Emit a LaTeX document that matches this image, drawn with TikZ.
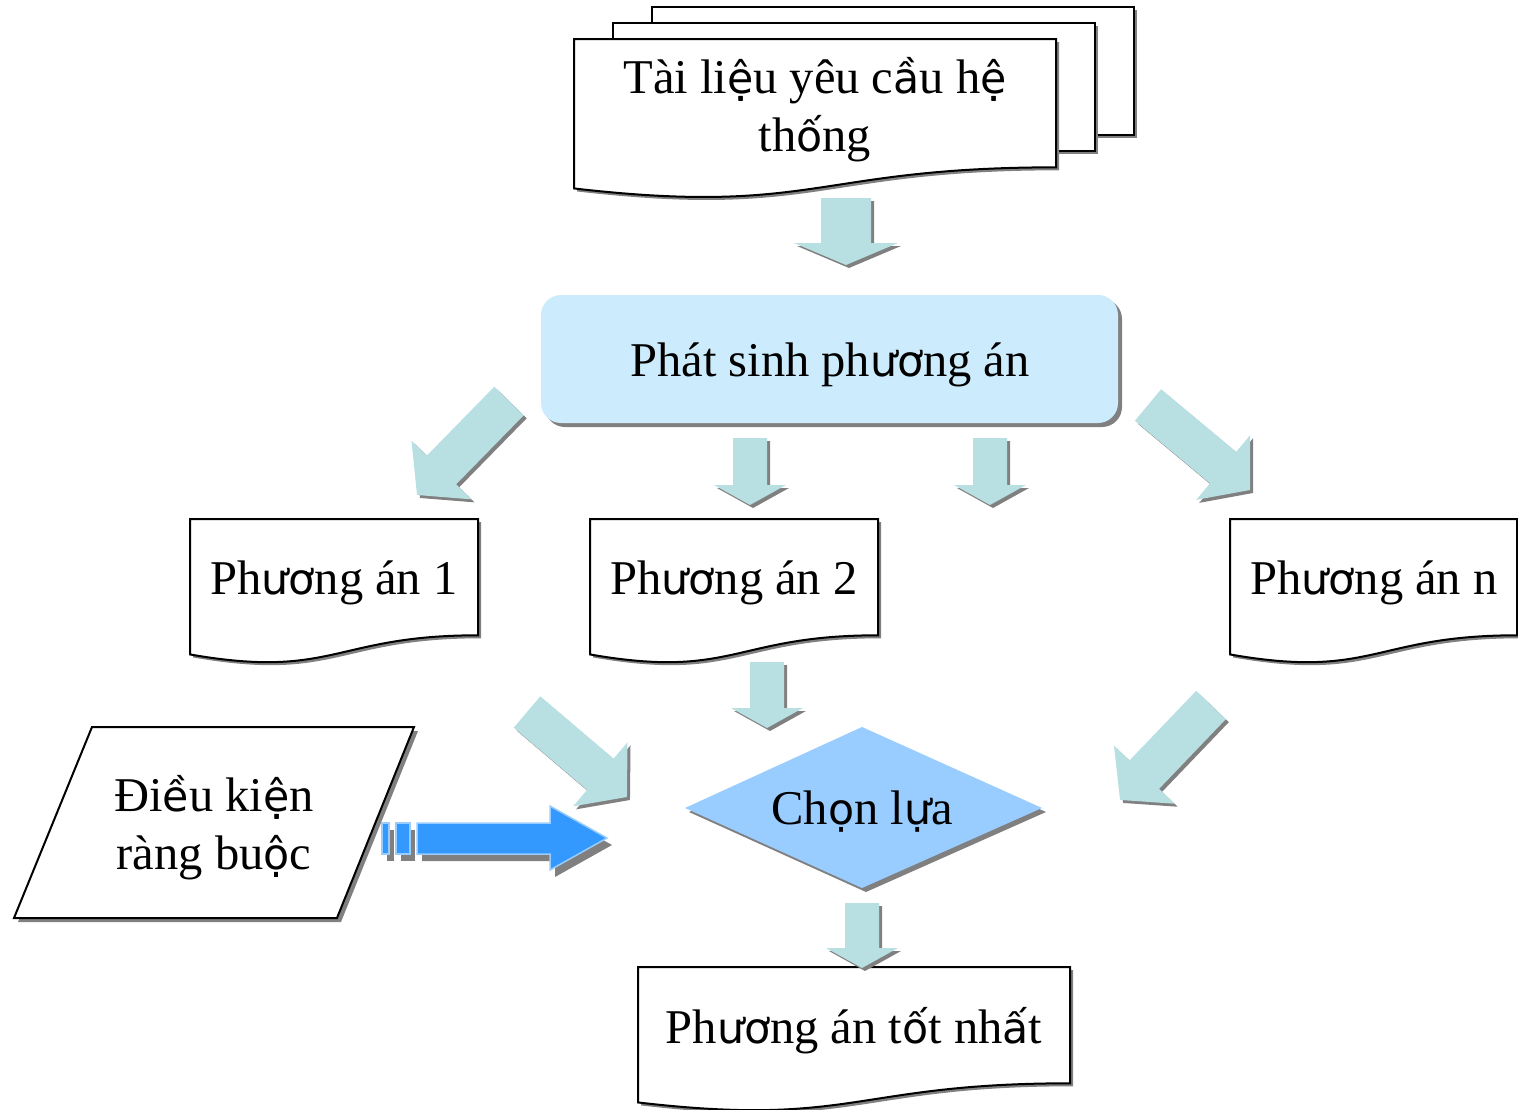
\documentclass[tikz,border=0pt]{standalone}
\usepackage{fontspec}
\setmainfont{Liberation Serif}
\newfontfamily\fbk{DejaVu Sans}[Scale=0.88]
\newcommand\fb[1]{{\fbk #1}}
\usetikzlibrary{calc}
\definecolor{arrteal}{HTML}{B8DFE2}
\definecolor{boxblue}{HTML}{CCEBFC}
\definecolor{diablue}{HTML}{99CCFF}
\definecolor{strongblue}{HTML}{3399FF}
\definecolor{shadowgray}{HTML}{808080}
\tikzset{
  outline/.style={draw=black, line width=2, fill=white, line join=miter},
  shade3/.style={fill=shadowgray},
  txt/.style={font=\fontsize{48.5}{58}\selectfont, align=center, inner sep=0},
}
% document shape: x1, y0, W, H
\newcommand\docpath[4]{(#1,#2) -- ({#1+#3},#2) -- ({#1+#3},{#2+0.802*#4}) .. controls ({#1+#3/2},{#2+0.802*#4}) and ({#1+#3/2},{#2+1.1075*#4}) .. (#1,{#2+0.934*#4}) -- cycle}
\newcommand\docshape[4]{%
  \fill[shade3, shift={(3,3)}] \docpath{#1}{#2}{#3}{#4};
  \path[outline] \docpath{#1}{#2}{#3}{#4};}
% block arrow: tail, tip, half shaft, half head, head length
\newcommand\barrow[5]{%
  \path let \p1=($(#2)-(#1)$), \n1={atan2(\y1,\x1)}, \n2={veclen(\x1,\y1)} in \pgfextra{\xdef\bang{\n1}\xdef\blen{\n2}};
  \fill[shadowgray, shift={($(#1)+(3,3)$)}, rotate=\bang] (0,-#3) -- ({\blen-#5},-#3) -- ({\blen-#5},-#4) -- (\blen,0) -- ({\blen-#5},#4) -- ({\blen-#5},#3) -- (0,#3) -- cycle;
  \fill[arrteal, shift={(#1)}, rotate=\bang] (0,-#3) -- ({\blen-#5},-#3) -- ({\blen-#5},-#4) -- (\blen,0) -- ({\blen-#5},#4) -- ({\blen-#5},#3) -- (0,#3) -- cycle;}
\begin{document}
\begin{tikzpicture}[x=1pt, y=-1pt]
\useasboundingbox (0,0) rectangle (1518,1109);

% ---- stacked documents
\fill[shade3] (655,10) rectangle (1137,138);
\path[outline] (652,7) rectangle (1134,135);
\fill[shade3] (616,26) rectangle (1098,154);
\path[outline] (613,23) rectangle (1095,151);
\docshape{574}{39}{482}{160}
\node[txt] (req) at (815,110) {Tài li\fb{ệ}u yêu c\fb{ầ}u h\fb{ệ}\\th\fb{ố}ng};

% ---- generate
\fill[shadowgray, rounded corners=20] (545,299) rectangle (1122,427);
\fill[boxblue, rounded corners=20] (541,295) rectangle (1118,423);
\node[txt] (gen) at (830,365) {Phát sinh ph\fb{ươ}ng án};

% ---- alternatives
\docshape{190}{519}{288}{145}
\node[txt] (pa1) at (334,583) {Ph\fb{ươ}ng án 1};
\docshape{590}{519}{288}{145}
\node[txt] (pa2) at (734,583) {Ph\fb{ươ}ng án 2};
\docshape{1230}{519}{287}{145}
\node[txt] (pan) at (1374,583) {Ph\fb{ươ}ng án n};

% ---- choose
\fill[shadowgray] (689,812) -- (866,731) -- (1046,812) -- (866,892) -- cycle;
\fill[diablue] (685,808) -- (862,727) -- (1042,808) -- (862,888) -- cycle;
\node[txt] (cho) at (862,812) {Ch\fb{ọ}n l\fb{ự}a};

% ---- constraints
\fill[shadowgray] (96,731) -- (418,731) -- (341,922) -- (18,922) -- cycle;
\path[outline] (92,727) -- (414,727) -- (337,918) -- (14,918) -- cycle;
\node[txt] (con) at (214,828) {Đi\fb{ề}u ki\fb{ệ}n\\ràng bu\fb{ộ}c};

% ---- best
\docshape{638}{967}{432}{145}
\node[txt] (best) at (854,1031) {Ph\fb{ươ}ng án t\fb{ố}t nh\fb{ấ}t};

% ---- block arrows (tail/tip coordinates)
\coordinate (a0s) at (846,198);  \coordinate (a0e) at (846,265);
\coordinate (a1s) at (509,401);  \coordinate (a1e) at (417,495);
\coordinate (a2s) at (750,438);  \coordinate (a2e) at (750,505);
\coordinate (a3s) at (990,438);  \coordinate (a3e) at (990,505);
\coordinate (a4s) at (1148,405); \coordinate (a4e) at (1250,490);
\coordinate (a5s) at (527,712);  \coordinate (a5e) at (627,797);
\coordinate (a6s) at (767,662);  \coordinate (a6e) at (767,728);
\coordinate (a7s) at (1211,705); \coordinate (a7e) at (1120,800);
\coordinate (a8s) at (862,903);  \coordinate (a8e) at (862,968);
\barrow{a0s}{a0e}{25}{52}{22}
\barrow{a1s}{a1e}{20.5}{42}{35}
\barrow{a2s}{a2e}{17}{36}{20}
\barrow{a3s}{a3e}{17}{36}{20}
\barrow{a4s}{a4e}{20.5}{42}{35}
\barrow{a5s}{a5e}{20.5}{42}{35}
\barrow{a6s}{a6e}{17}{36}{20}
\barrow{a7s}{a7e}{20.5}{42}{35}
\barrow{a8s}{a8e}{17}{36}{20}

% ---- striped blue arrow
\coordinate (ba) at (607,838);
\begin{scope}[shift={(5,7)}]
  \fill[shadowgray] (382,823) rectangle (389,854);
  \fill[shadowgray] (396,823) rectangle (410,854);
  \fill[shadowgray] (417,823) -- (550,823) -- (550,806) -- (607,838) -- (550,870) -- (550,854) -- (417,854) -- cycle;
\end{scope}
\begin{scope}[draw=diablue, fill=strongblue, line width=1.5]
  \filldraw (382,823) rectangle (389,854);
  \filldraw (396,823) rectangle (410,854);
  \filldraw (417,823) -- (550,823) -- (550,806) -- (ba) -- (550,870) -- (550,854) -- (417,854) -- cycle;
\end{scope}
\end{tikzpicture}
\end{document}
